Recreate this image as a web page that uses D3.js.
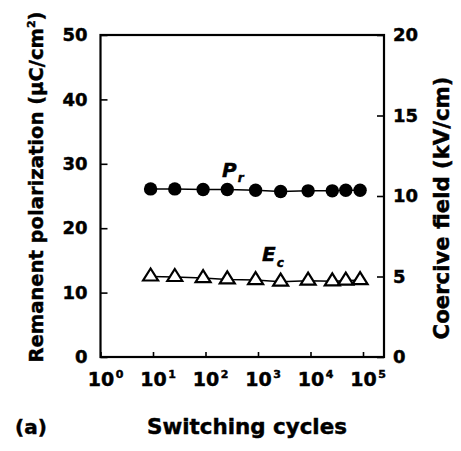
<!DOCTYPE html>
<html>
<head>
<meta charset="utf-8">
<script src="https://cdn.jsdelivr.net/npm/d3@7"></script>
<style>
  html, body { margin: 0; padding: 0; background: #fff; }
  svg text { font-family: 'DejaVu Sans', 'Liberation Sans', Arial, sans-serif; font-weight: bold; fill: #000; stroke: #000; stroke-width: 0.45px; }
</style>
</head>
<body>
<svg id="chart" width="461" height="451"></svg>
<script>
// ---- data ----
const cycles   = [9, 26, 90, 260, 900, 2700, 9000, 26000, 47000, 88000];
const prValues = [26.1, 26.1, 26.0, 26.0, 25.9, 25.7, 25.8, 25.8, 25.9, 25.9];
const ecValues = [5.0, 4.97, 4.9, 4.82, 4.78, 4.68, 4.74, 4.7, 4.74, 4.78];
const xTickExponents = [0, 1, 2, 3, 4, 5];
const leftTicks  = [0, 10, 20, 30, 40, 50];
const rightTicks = [0, 5, 10, 15, 20];

const svg = d3.select('#chart');
const L = 100.5, R = 384, T = 35, B = 357;

const x  = d3.scaleLog().domain([1, Math.pow(10, 5.4)]).range([L, R]);
const yL = d3.scaleLinear().domain([0, 50]).range([B, T]);
const yR = d3.scaleLinear().domain([0, 20]).range([B, T]);

// axes
const gL = svg.append('g').attr('transform', `translate(${L},0)`)
  .call(d3.axisLeft(yL).tickValues(leftTicks).tickSizeInner(-7).tickSizeOuter(0).tickPadding(13));
const gR = svg.append('g').attr('transform', `translate(${R},0)`)
  .call(d3.axisRight(yR).tickValues(rightTicks).tickSizeInner(-7).tickSizeOuter(0).tickPadding(9));
const gB = svg.append('g').attr('transform', `translate(0,${B})`)
  .call(d3.axisBottom(x).tickValues(xTickExponents.map(e => Math.pow(10, e)))
    .tickFormat(() => '10').tickSizeInner(-5).tickSizeOuter(0).tickPadding(16));

[gL, gR, gB].forEach(g => {
  g.select('.domain').remove();
  g.selectAll('.tick line').attr('stroke', '#000').attr('stroke-width', 1.6);
  g.selectAll('.tick text').attr('font-size', 18).attr('font-family', null).attr('fill', '#000');
});

// x tick labels: "10" centred on the tick, exponent as a superscript tspan
gB.selectAll('.tick text').each(function(d, i) {
  const t = d3.select(this).attr('font-size', 19);
  const w = this.getComputedTextLength();
  t.attr('text-anchor', 'start').attr('x', -w / 2);
  t.append('tspan').attr('font-size', 11).attr('dx', 1.5).attr('dy', -8).text(xTickExponents[i]);
});

// frame
svg.append('rect')
  .attr('x', L).attr('y', T).attr('width', R - L).attr('height', B - T)
  .attr('fill', 'none').attr('stroke', '#000').attr('stroke-width', 2.2);

// Pr series
const prLine = d3.line().x((d, i) => x(cycles[i])).y(d => yL(d));
svg.append('path').datum(prValues).attr('d', prLine)
  .attr('fill', 'none').attr('stroke', '#000').attr('stroke-width', 1.5);
svg.selectAll('circle.pr').data(prValues).join('circle').attr('class', 'pr')
  .attr('cx', (d, i) => x(cycles[i])).attr('cy', d => yL(d)).attr('r', 6.7).attr('fill', '#000');

// Ec series
const ecLine = d3.line().x((d, i) => x(cycles[i])).y(d => yR(d));
svg.append('path').datum(ecValues).attr('d', ecLine)
  .attr('fill', 'none').attr('stroke', '#000').attr('stroke-width', 1.5);
const tri = 'M0,-8L7.5,4L-7.5,4Z';
svg.selectAll('path.ec').data(ecValues).join('path').attr('class', 'ec')
  .attr('d', tri)
  .attr('transform', (d, i) => `translate(${x(cycles[i])},${yR(d)})`)
  .attr('fill', '#fff').attr('stroke', '#000').attr('stroke-width', 2.2).attr('stroke-linejoin', 'miter');

// series labels
const pl = svg.append('text').attr('x', 222).attr('y', 177).attr('font-size', 20).attr('font-style', 'italic');
pl.append('tspan').text('P');
pl.append('tspan').attr('font-size', 12).attr('dy', 5).attr('dx', 1).text('r');
const el = svg.append('text').attr('x', 262).attr('y', 261).attr('font-size', 20).attr('font-style', 'italic');
el.append('tspan').text('E');
el.append('tspan').attr('font-size', 12).attr('dy', 6).attr('dx', 1).text('c');

// fit helper
function fit(sel, target) {
  const fs = +sel.attr('font-size');
  const w = sel.node().getComputedTextLength();
  sel.attr('font-size', fs * target / w);
}

// axis titles
const lt = svg.append('text').attr('font-size', 18).attr('text-anchor', 'middle')
  .attr('transform', 'translate(43,187) rotate(-90)');
lt.append('tspan').text('Remanent polarization (μC/cm');
lt.append('tspan').attr('font-size', 11).attr('dy', -8).text('2');
lt.append('tspan').attr('dy', 8).text(')');
fit(lt, 352);

const rt = svg.append('text').attr('font-size', 18).attr('text-anchor', 'middle')
  .attr('transform', 'translate(449,208) rotate(-90)')
  .text('Coercive field (kV/cm)');
fit(rt, 263);

const xt = svg.append('text').attr('font-size', 20).attr('text-anchor', 'middle')
  .attr('x', 247).attr('y', 434).text('Switching cycles');
fit(xt, 200);

svg.append('text').attr('font-size', 20).attr('x', 15).attr('y', 434).text('(a)');
</script>
</body>
</html>
